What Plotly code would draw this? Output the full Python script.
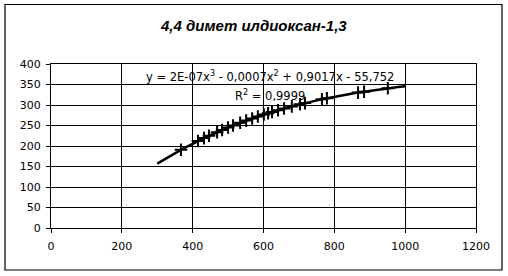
import numpy as np
import plotly.graph_objects as go

# Data
x_vals = [367, 415, 432, 446, 469, 483, 500, 514, 534, 551, 568, 584, 601, 613,
          624, 641, 658, 680, 703, 717, 765, 779, 867, 884, 951]
y_vals = [190.8, 212.2, 219.3, 224.9, 233.8, 239.0, 245.1, 249.9, 256.6, 262.0,
          267.2, 271.9, 276.7, 280.0, 282.9, 287.3, 291.5, 296.6, 301.7, 304.6,
          313.9, 316.4, 330.2, 332.5, 340.7]

# Trendline (polynomial, order 3) coefficients as displayed
trend_coef = [2e-07, -0.0007, 0.9017, -55.752]
trend_range = [300, 1000]

title_text = "4,4 димет илдиоксан-1,3"
eq_text = "y = 2E-07x<sup>3</sup> - 0,0007x<sup>2</sup> + 0,9017x - 55,752"
r2_text = "R<sup>2</sup> = 0,9999"

tx = np.linspace(trend_range[0], trend_range[1], 200)
ty = np.polyval(trend_coef, tx)

fig = go.Figure()
fig.add_trace(go.Scatter(x=tx, y=ty, mode="lines",
                         line=dict(color="black", width=2.5),
                         hoverinfo="skip", showlegend=False))
fig.add_trace(go.Scatter(x=x_vals, y=y_vals, mode="markers",
                         marker=dict(symbol="cross-thin", size=9,
                                     line=dict(color="black", width=2)),
                         showlegend=False))

L, R, T, B = 51, 32, 64, 48
W, H = 508, 276
pw, ph = W - L - R, H - T - B


def px(xp):
    return (xp - L) / pw


def py(yp):
    return (H - B - yp) / ph


fig.add_shape(type="rect", xref="paper", yref="paper",
              x0=px(5), x1=px(502), y0=py(270), y1=py(4.5),
              line=dict(color="black", width=1.2), layer="below")

fig.add_annotation(text="<b><i>" + title_text + "</i></b>", xref="paper", yref="paper",
                   x=px(253), y=py(25), showarrow=False,
                   font=dict(family="Liberation Sans", size=15, color="black"),
                   xanchor="center", yanchor="middle")
fig.add_annotation(text=eq_text, xref="paper", yref="paper",
                   x=px(270), y=py(76), showarrow=False,
                   font=dict(family="DejaVu Sans", size=11.5, color="black"),
                   xanchor="center", yanchor="middle")
fig.add_annotation(text=r2_text, xref="paper", yref="paper",
                   x=px(270), y=py(95), showarrow=False,
                   font=dict(family="DejaVu Sans", size=11.5, color="black"),
                   xanchor="center", yanchor="middle")

axis_common = dict(showgrid=True, gridcolor="black", gridwidth=1,
                   showline=True, linecolor="black", linewidth=1, mirror=True,
                   ticks="outside", ticklen=4, tickcolor="black",
                   tickfont=dict(family="DejaVu Sans", size=11, color="black"),
                   zeroline=False, fixedrange=True)

fig.update_xaxes(range=[0, 1200], dtick=200, ticklabelstandoff=4, **axis_common)
fig.update_yaxes(range=[0, 400], dtick=50, ticklabelstandoff=3, **axis_common)

fig.update_layout(width=W, height=H, margin=dict(l=L, r=R, t=T, b=B),
                  paper_bgcolor="white", plot_bgcolor="white")

fig.write_html("out.html")
